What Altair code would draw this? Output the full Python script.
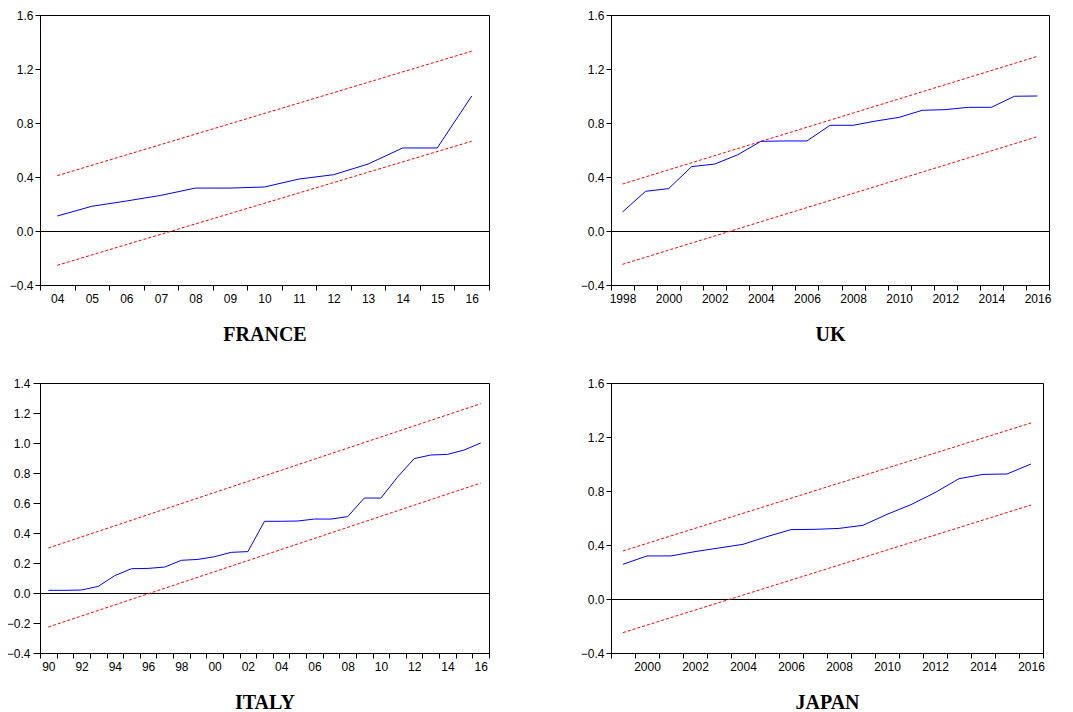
import altair as alt
import pandas as pd

# ---------------- data ----------------
fr_years = list(range(2004, 2017))
fr_cusum = [0.111, 0.183, 0.222, 0.264, 0.318, 0.318, 0.326, 0.385, 0.417, 0.496, 0.615, 0.615, 1.0]
fr_upper = [0.410, 1.332]
fr_lower = [-0.254, 0.665]

uk_years = list(range(1998, 2017))
uk_cusum = [0.141, 0.294, 0.314, 0.477, 0.496, 0.565, 0.664, 0.667, 0.667, 0.783,
            0.783, 0.815, 0.842, 0.894, 0.899, 0.916, 0.916, 0.998, 1.0]
uk_upper = [0.348, 1.294]
uk_lower = [-0.247, 0.699]

it_years = list(range(1990, 2017))
it_cusum = [0.018, 0.018, 0.020, 0.044, 0.116, 0.162, 0.164, 0.173, 0.218, 0.224,
            0.242, 0.271, 0.276, 0.478, 0.478, 0.480, 0.493, 0.493, 0.509, 0.633,
            0.633, 0.773, 0.896, 0.920, 0.924, 0.953, 1.0]
it_upper = [0.300, 1.262]
it_lower = [-0.227, 0.733]

jp_years = list(range(1999, 2017))
jp_cusum = [0.257, 0.319, 0.319, 0.351, 0.378, 0.405, 0.462, 0.514, 0.516, 0.523,
            0.546, 0.627, 0.699, 0.788, 0.891, 0.923, 0.926, 1.0]
jp_upper = [0.356, 1.304]
jp_lower = [-0.249, 0.696]

y_ticks_a = [-0.4, 0.0, 0.4, 0.8, 1.2, 1.6]
y_ticks_b = [-0.4, -0.2, 0.0, 0.2, 0.4, 0.6, 0.8, 1.0, 1.2, 1.4]

SANS = "Liberation Sans"
SERIF = "Liberation Serif"


def panel(name, years, cusum, upper, lower, yticks, width, every2, short,
          ytick=5, ypad=2):
    df = pd.DataFrame({"year": years, "v": cusum})
    bounds = pd.DataFrame({
        "year": [years[0], years[-1], years[0], years[-1]],
        "v": upper + lower,
        "s": ["u", "u", "l", "l"],
    })
    lab = "substring(toString(datum.value), 2)" if short else "toString(datum.value)"
    if every2:
        lab = f"datum.value % 2 == 0 ? {lab} : ''"
    lab = f"datum.value == null ? '' : ({lab})"
    xscale = alt.Scale(type="band", domain=years, paddingInner=0, paddingOuter=0)
    xaxis = alt.Axis(
        title=name, titleFont=SERIF, titleFontSize=20, titleFontWeight="bold",
        titleColor="black", titlePadding=20,
        labelExpr=lab, labelAngle=0, labelFont=SANS, labelFontSize=12,
        labelPadding=3, tickBand="extent", tickSize=5, grid=False,
        labelOverlap=False,
    )
    yscale = alt.Scale(domain=[yticks[0], yticks[-1]], nice=False, zero=False)
    yaxis = alt.Axis(
        title=None, values=yticks, tickCount=len(yticks) + 2, format=".1f",
        labelFont=SANS, labelFontSize=12,
        labelPadding=ypad, tickSize=ytick, grid=False, labelOverlap=False,
    )
    x = alt.X("year:O", scale=xscale, axis=xaxis, bandPosition=0.5)
    y = alt.Y("v:Q", scale=yscale, axis=yaxis)

    zero = alt.Chart(df).mark_rule(color="black", strokeWidth=1).encode(
        y=alt.datum(0), yOffset=alt.value(0.5))
    bnd = alt.Chart(bounds).mark_line(color="#ff0000", strokeDash=[3, 2], strokeWidth=1).encode(
        x=x, y=y, detail="s:N")
    line = alt.Chart(df).mark_line(color="#0000ff", strokeWidth=1).encode(x=x, y=y)
    return alt.layer(zero, bnd, line).properties(width=width, height=270)


fr = panel("FRANCE", fr_years, fr_cusum, fr_upper, fr_lower, y_ticks_a, 449, False, True)
uk = panel("UK", uk_years, uk_cusum, uk_upper, uk_lower, y_ticks_a, 438, True, False)
it = panel("ITALY", it_years, it_cusum, it_upper, it_lower, y_ticks_b, 449, True, True,
           ytick=7, ypad=3)
jp = panel("JAPAN", jp_years, jp_cusum, jp_upper, jp_lower, y_ticks_a, 432, True, False)

chart = alt.vconcat(
    alt.hconcat(fr, uk, spacing=89),
    alt.hconcat(it, jp, spacing=89),
    spacing=31,
).properties(
    padding={"left": -3, "top": 0, "right": 0, "bottom": 0}, background="white"
).configure_view(
    stroke="black", strokeWidth=1
).configure_axis(
    domainColor="black", tickColor="black", labelColor="black", domainWidth=1, tickWidth=1
)

chart.save("out.html", embed_options={"renderer": "svg", "actions": False})
